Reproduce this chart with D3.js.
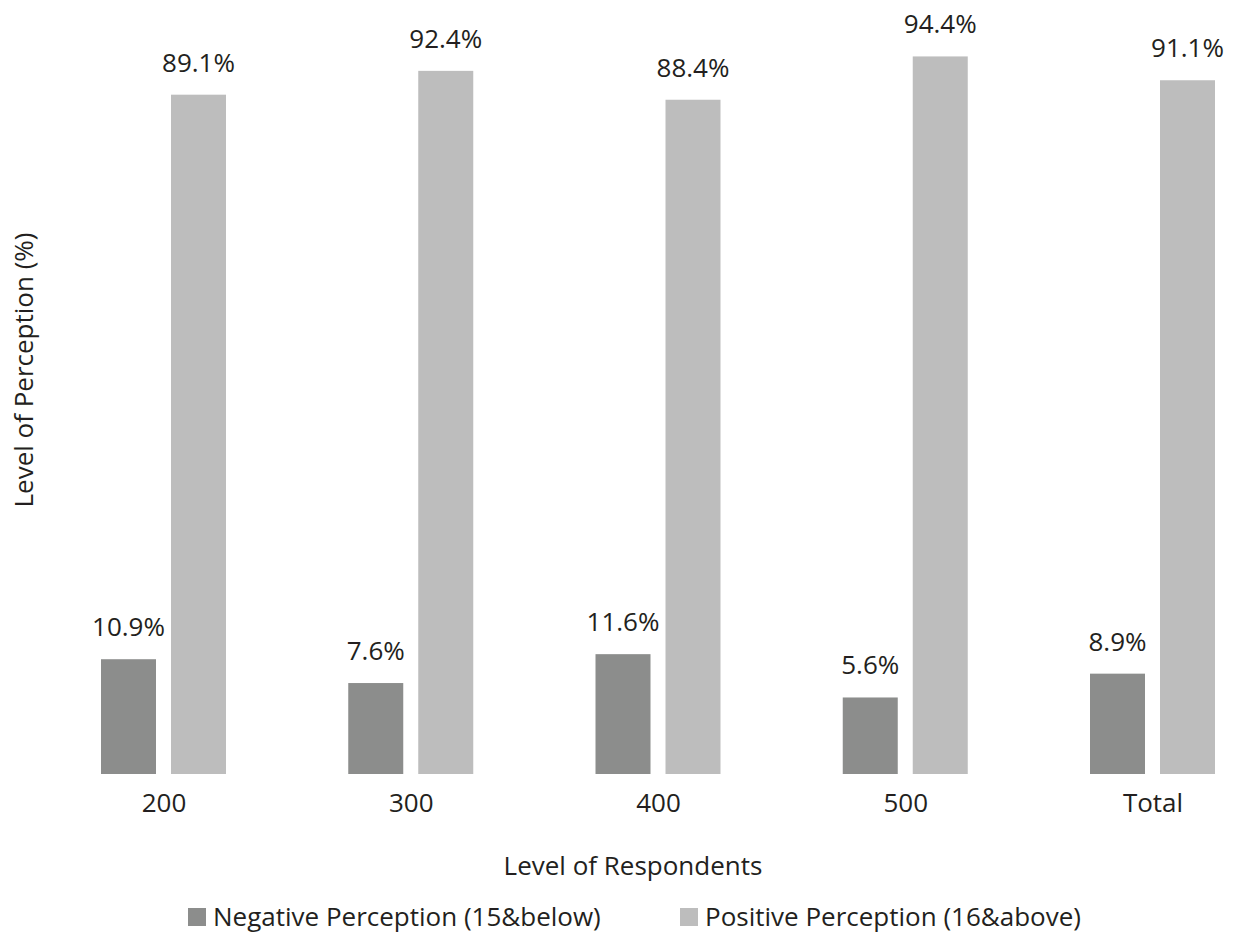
<!DOCTYPE html>
<html>
<head>
<meta charset="utf-8">
<script src="https://cdn.jsdelivr.net/npm/d3@7"></script>
<style>
  body { margin: 0; background: #fff; }
  text { font-family: "Open Sans", sans-serif; fill: #231f20; }
</style>
</head>
<body>
<div id="wrapper"></div>
<script>
const categories = ["200", "300", "400", "500", "Total"];
const seriesNames = ["Negative Perception (15&below)", "Positive Perception (16&above)"];
const negativeValues = [10.9, 7.6, 11.6, 5.6, 8.9];
const positiveValues = [89.1, 92.4, 88.4, 94.4, 91.1];
const colors = ["#8c8d8c", "#bdbdbd"];

function drawChart() {
    const dimensions = { width: 1235, height: 933 };
    const fontSize = "26px";

    const svg = d3.select("#wrapper")
        .append("svg")
        .attr("width", dimensions.width)
        .attr("height", dimensions.height);

    const dataSet = categories.map((c, i) => ({
        category: c,
        values: [negativeValues[i], positiveValues[i]]
    }));

    // scales
    const xScale = d3.scalePoint()
        .domain(categories)
        .range([163.5, 1152.5]);

    const subScale = d3.scaleBand()
        .domain([0, 1])
        .range([-62.5, 62.5])
        .paddingInner(0.2143);

    // bars start a bit below zero, like in the source chart
    const yScale = d3.scaleLinear()
        .domain([-5, 100])
        .range([774, 16]);

    const groups = svg.selectAll("g.group")
        .data(dataSet)
        .join("g")
        .attr("class", "group")
        .attr("transform", d => `translate(${xScale(d.category)},0)`);

    groups.selectAll("rect")
        .data(d => d.values)
        .join("rect")
        .attr("x", (d, i) => subScale(i))
        .attr("width", subScale.bandwidth())
        .attr("y", d => yScale(d))
        .attr("height", d => yScale(-5) - yScale(d))
        .attr("fill", (d, i) => colors[i]);

    groups.selectAll("text.value")
        .data(d => d.values)
        .join("text")
        .attr("class", "value")
        .attr("x", (d, i) => subScale(i) + subScale.bandwidth() / 2)
        .attr("y", d => yScale(d) - 23)
        .attr("text-anchor", "middle")
        .style("font-size", fontSize)
        .text(d => d.toFixed(1) + "%");

    // x axis (no line, no ticks)
    const xAxis = svg.append("g")
        .attr("transform", "translate(0,774)")
        .call(d3.axisBottom(xScale).tickSize(0).tickPadding(20));
    xAxis.select(".domain").remove();
    xAxis.selectAll("text")
        .style("font-family", "'Open Sans', sans-serif")
        .style("font-size", fontSize)
        .attr("fill", "#231f20");

    // axis titles
    svg.append("text")
        .attr("x", 633)
        .attr("y", 875)
        .attr("text-anchor", "middle")
        .style("font-size", fontSize)
        .text("Level of Respondents");

    svg.append("text")
        .attr("transform", "translate(33,370) rotate(-90)")
        .attr("text-anchor", "middle")
        .style("font-size", fontSize)
        .text("Level of Perception (%)");

    // legend
    const legendX = [188, 680];
    const legend = svg.selectAll("g.legend")
        .data(seriesNames)
        .join("g")
        .attr("class", "legend")
        .attr("transform", (d, i) => `translate(${legendX[i]},908)`);
    legend.append("rect")
        .attr("width", 18)
        .attr("height", 18)
        .attr("fill", (d, i) => colors[i]);
    legend.append("text")
        .attr("x", 25)
        .attr("y", 18)
        .style("font-size", fontSize)
        .text(d => d);
}
drawChart()
</script>
</body>
</html>
